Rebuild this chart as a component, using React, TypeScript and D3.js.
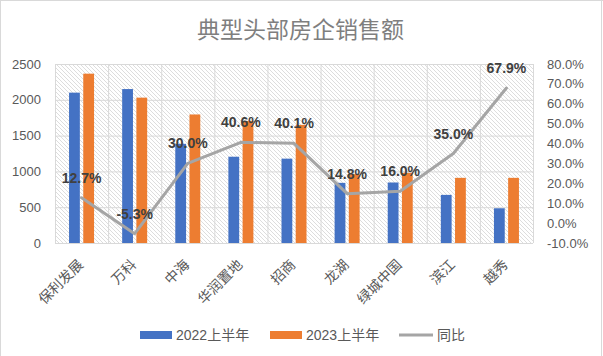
import React from "react";
import * as d3 from "d3";

const categories = ["保利发展", "万科", "中海", "华润置地", "招商", "龙湖", "绿城中国", "滨江", "越秀"];
const sales2022 = [2100, 2150, 1385, 1205, 1178, 840, 845, 672, 485];
const sales2023 = [2365, 2030, 1795, 1705, 1650, 962, 980, 910, 910];
const yoy = [12.7, -5.3, 30.0, 40.6, 40.1, 14.8, 16.0, 35.0, 67.9];
const seriesNames = ["2022上半年", "2023上半年", "同比"];
const leftTicks = [0, 500, 1000, 1500, 2000, 2500];
const rightTicks = [-10, 0, 10, 20, 30, 40, 50, 60, 70, 80];

const W = 603;
const H = 356;
const FONT = "'Liberation Sans', Arial, 'Noto Sans CJK SC', sans-serif";
const BLUE = "#4472C4";
const ORANGE = "#ED7D31";
const GRAY = "#A5A5A5";
const GRID = "#D9D9D9";
const TEXT = "#595959";

export default function App() {
  const left = 55, right = 533, top = 64, bottom = 243;
  const x = d3.scaleBand<string>().domain(categories).range([left, right]).padding(0);
  const yL = d3.scaleLinear().domain([0, 2500]).range([bottom, top]);
  const yR = d3.scaleLinear().domain([-10, 80]).range([bottom, top]);
  const sub = d3.scaleBand<string>().domain(["a", "b"]).range([-12.5, 12.5]).paddingInner(0.24);
  const cx = (c: string) => (x(c) as number) + x.bandwidth() / 2;

  const line = d3
    .line<number>()
    .x((_, i) => cx(categories[i]))
    .y((d) => yR(d));

  return (
    <div style={{ position: "absolute", left: 0, top: 0 }}>
      <svg width={W} height={H} style={{ display: "block", fontFamily: FONT }}>
        <defs>
          <pattern id="hatch" width="4" height="4" patternUnits="userSpaceOnUse">
            <rect width="4" height="4" fill="#fff" />
            <path d="M-1,-1 L5,5 M3,-1 L5,1 M-1,3 L1,5" stroke="#D4D4D4" strokeWidth="0.8" />
          </pattern>
        </defs>
        <rect x={0} y={0} width={W} height={H} fill="#fff" />
        <line x1={0} x2={W} y1={0.5} y2={0.5} stroke={GRID} />
        <line x1={0.5} x2={0.5} y1={0} y2={H} stroke={GRID} />
        <line x1={601.5} x2={601.5} y1={0} y2={H} stroke={GRID} />

        <text x={300.5} y={38} textAnchor="middle" fontSize={23} fill="#7F7F7F">
          典型头部房企销售额
        </text>

        <rect x={left} y={top} width={right - left} height={bottom - top} fill="url(#hatch)" />
        {leftTicks.map((t) => (
          <line key={"h" + t} x1={left} x2={right} y1={yL(t) + 0.5} y2={yL(t) + 0.5} stroke={GRID} />
        ))}
        {categories.map((c) => (
          <line key={"v" + c} x1={(x(c) as number) + 0.5} x2={(x(c) as number) + 0.5} y1={top} y2={bottom} stroke={GRID} />
        ))}
        <line x1={right + 0.5} x2={right + 0.5} y1={top} y2={bottom} stroke={GRID} />

        {leftTicks.map((t) => (
          <text key={"lt" + t} x={41} y={yL(t) + 4.5} textAnchor="end" fontSize={13} fill={TEXT}>
            {t}
          </text>
        ))}
        {rightTicks.map((t) => (
          <text key={"rt" + t} x={547} y={yR(t) + 4.5} textAnchor="start" fontSize={13} fill={TEXT}>
            {t.toFixed(1) + "%"}
          </text>
        ))}

        {categories.map((c, i) => (
          <g key={"b" + c}>
            <rect
              x={cx(c) + (sub("a") as number)}
              y={yL(sales2022[i])}
              width={sub.bandwidth()}
              height={bottom - yL(sales2022[i])}
              fill={BLUE}
            />
            <rect
              x={cx(c) + (sub("b") as number)}
              y={yL(sales2023[i])}
              width={sub.bandwidth()}
              height={bottom - yL(sales2023[i])}
              fill={ORANGE}
            />
          </g>
        ))}
        <line x1={left} x2={right} y1={bottom + 0.5} y2={bottom + 0.5} stroke={GRID} />

        <path d={line(yoy) || ""} fill="none" stroke={GRAY} strokeWidth={3} strokeLinejoin="round" strokeLinecap="round" />

        {categories.map((c, i) => (
          <text
            key={"dl" + c}
            x={cx(c)}
            y={yR(yoy[i]) - 15}
            textAnchor="middle"
            fontSize={14}
            fontWeight="bold"
            fill="#404040"
          >
            {yoy[i].toFixed(1) + "%"}
          </text>
        ))}

        {categories.map((c) => (
          <text
            key={"xl" + c}
            transform={`translate(${cx(c) + 2.5},${265.5}) rotate(-45)`}
            textAnchor="end"
            fontSize={14}
            fill={TEXT}
          >
            {c}
          </text>
        ))}

        <g fontSize={14} fill={TEXT}>
          <rect x={140} y={331} width={32} height={8} fill={BLUE} />
          <text x={176} y={340}>{seriesNames[0]}</text>
          <rect x={270} y={331} width={32} height={8} fill={ORANGE} />
          <text x={306} y={340}>{seriesNames[1]}</text>
          <line x1={399} x2={433} y1={335} y2={335} stroke={GRAY} strokeWidth={3} />
          <text x={437} y={340}>{seriesNames[2]}</text>
        </g>
      </svg>
    </div>
  );
}
